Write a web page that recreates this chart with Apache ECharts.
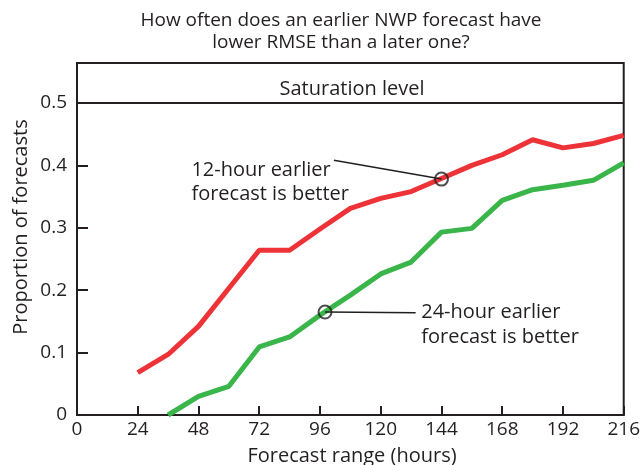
<!DOCTYPE html>
<html><head><meta charset="utf-8">
<script src="https://cdn.jsdelivr.net/npm/echarts@6/dist/echarts.min.js"></script>
<style>html,body{margin:0;padding:0;background:#fff}#c{width:643px;height:465px}</style>
</head><body><div id="c"></div>
<script>
const titleLines = ["How often does an earlier NWP forecast have", "lower RMSE than a later one?"];
const xTicks = [0, 24, 48, 72, 96, 120, 144, 168, 192, 216];
const yTicks = [0, 0.1, 0.2, 0.3, 0.4, 0.5];
const redHours = [24, 36, 48, 60, 72, 84, 96, 108, 120, 132, 144, 156, 168, 180, 192, 204, 216];
const redValues = [0.068, 0.097, 0.142, 0.203, 0.264, 0.264, 0.298, 0.331, 0.347, 0.358, 0.379, 0.400, 0.417, 0.441, 0.428, 0.435, 0.448];
const greenHours = [36, 48, 60, 72, 84, 96, 108, 120, 132, 144, 156, 168, 180, 192, 204, 216];
const greenValues = [0.000, 0.030, 0.046, 0.109, 0.125, 0.160, 0.192, 0.226, 0.245, 0.293, 0.299, 0.344, 0.361, 0.368, 0.376, 0.404];
const saturation = 0.5;
const redNote = ["12-hour earlier", "forecast is better"];
const greenNote = ["24-hour earlier", "forecast is better"];
const redCircle = [144, 0.378];
const greenCircle = [98, 0.165];
const redLeaderEnd = [101.5, 0.408];
const greenLeaderEnd = [133.8, 0.164];
const redTextAt = [45.2, 0.3733];
const greenTextAt = [136.0, 0.1453];

const INK = '#231f20';
const FONT = '"Open Sans", sans-serif';
const chart = echarts.init(document.getElementById('c'), null, {renderer: 'canvas'});
const zip = (xs, ys) => xs.map((x, i) => [x, ys[i]]);

chart.setOption({
  animation: false,
  grid: {left: 77, right: 16, top: 63, bottom: 50, show: true, borderColor: INK, borderWidth: 2, backgroundColor: 'transparent'},
  xAxis: {
    type: 'value', min: xTicks[0], max: xTicks[xTicks.length - 1], interval: 24,
    axisLine: {lineStyle: {color: INK, width: 2}},
    axisTick: {inside: true, length: 9, lineStyle: {color: INK, width: 2}},
    axisLabel: {color: INK, fontFamily: FONT, fontSize: 19, margin: 5, showMinLabel: true, showMaxLabel: true},
    splitLine: {show: false}
  },
  yAxis: {
    type: 'value', min: yTicks[0], max: 0.564, interval: 0.1,
    axisLine: {lineStyle: {color: INK, width: 2}},
    axisTick: {inside: true, length: 11, lineStyle: {color: INK, width: 2}},
    axisLabel: {color: INK, fontFamily: FONT, fontSize: 19, margin: 10, showMaxLabel: false,
      formatter: v => v === 0 ? '0' : v.toFixed(1)},
    splitLine: {show: false}
  },
  series: [
    {type: 'line', data: zip(redHours, redValues), showSymbol: false, lineStyle: {color: '#ee3338', width: 5}, z: 3,
     markLine: {silent: true, symbol: 'none', label: {show: false}, lineStyle: {color: INK, width: 2, type: 'solid'}, data: [{yAxis: saturation}]}},
    {type: 'line', data: zip(greenHours, greenValues), showSymbol: false, lineStyle: {color: '#39b54a', width: 5}, z: 3},
    {type: 'line', data: [redLeaderEnd, redCircle], showSymbol: false, lineStyle: {color: INK, width: 1.5}, z: 4},
    {type: 'line', data: [greenCircle, greenLeaderEnd], showSymbol: false, lineStyle: {color: INK, width: 1.5}, z: 4},
    {type: 'scatter', data: [redCircle, greenCircle], symbol: 'circle', symbolSize: 13,
     itemStyle: {color: 'rgba(0,0,0,0)', borderColor: INK, borderWidth: 2}, z: 5}
  ]
});

const p = c => chart.convertToPixel({gridIndex: 0}, c);
const rt = p(redTextAt), gt = p(greenTextAt);
const satY = p([0, saturation])[1];
chart.setOption({
  graphic: [
    {type: 'text', style: {text: titleLines.join('\n'), x: 341, y: 10, align: 'center', verticalAlign: 'top', fill: INK, font: '19px ' + FONT, lineHeight: 22}},
    {type: 'text', style: {text: 'Saturation level', x: 352, y: satY - 14, align: 'center', verticalAlign: 'middle', fill: INK, font: '20px ' + FONT}},
    {type: 'text', style: {text: redNote.join('\n'), x: rt[0], y: rt[1], align: 'left', verticalAlign: 'middle', fill: INK, font: '20px ' + FONT, lineHeight: 24}},
    {type: 'text', style: {text: greenNote.join('\n'), x: gt[0], y: gt[1], align: 'left', verticalAlign: 'middle', fill: INK, font: '20px ' + FONT, lineHeight: 25}},
    {type: 'text', style: {text: 'Forecast range (hours)', x: 352, y: 456, align: 'center', verticalAlign: 'middle', fill: INK, font: '20px ' + FONT}},
    {type: 'text', rotation: Math.PI / 2, x: 21, y: 227, style: {text: 'Proportion of forecasts', x: 0, y: 0, align: 'center', verticalAlign: 'middle', fill: INK, font: '20px ' + FONT}}
  ]
});
</script></body></html>
